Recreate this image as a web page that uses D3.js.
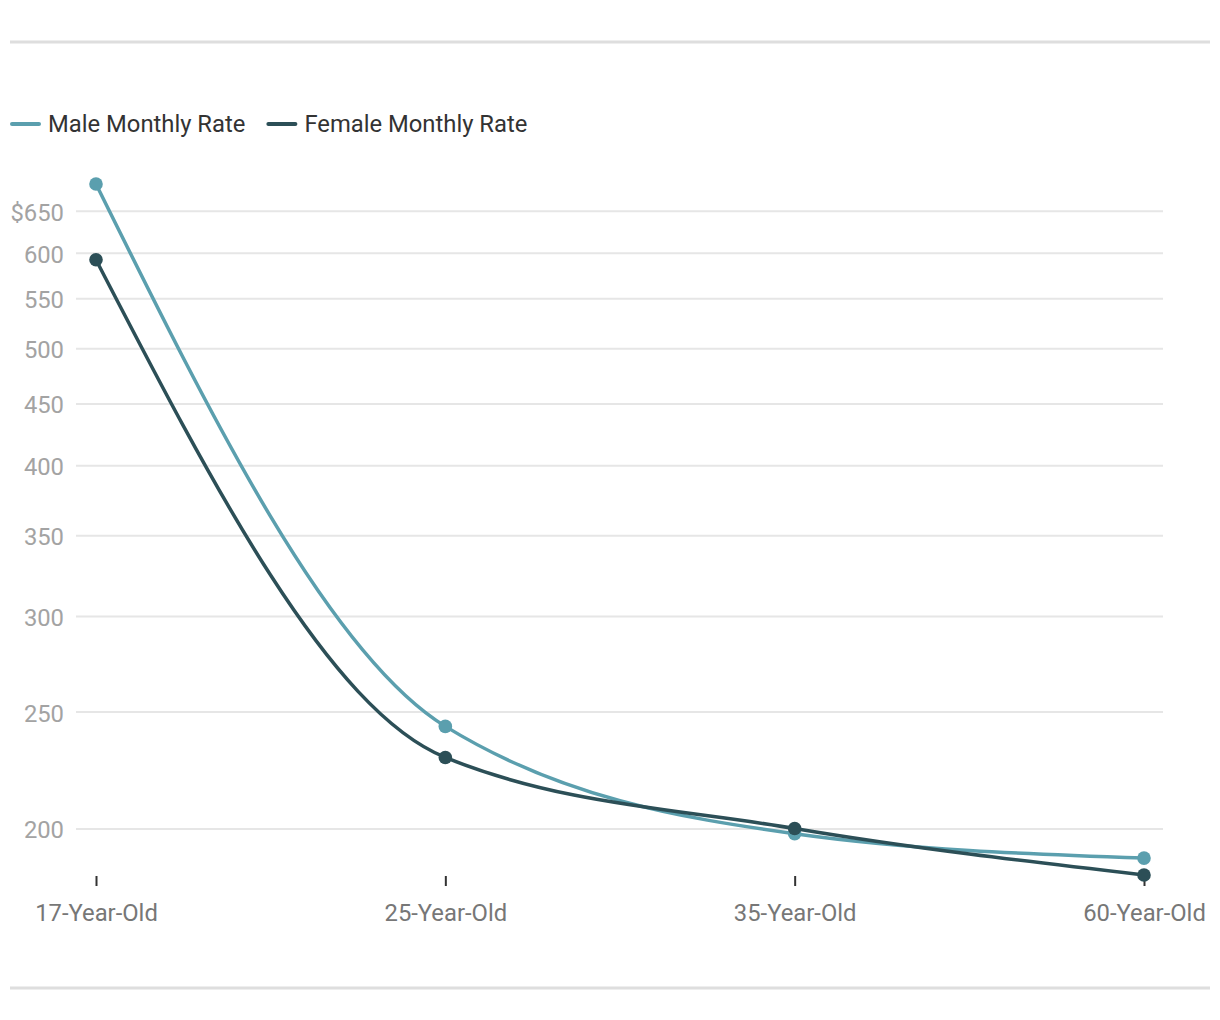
<!DOCTYPE html>
<html><head><meta charset="utf-8">
<script src="https://cdn.jsdelivr.net/npm/d3@7"></script>
<style>body{margin:0;background:#fff;font-family:Roboto,sans-serif;}</style>
</head><body>
<svg id="c" width="1220" height="1020"></svg>
<script>
const categories = ["17-Year-Old","25-Year-Old","35-Year-Old","60-Year-Old"];
const maleValues = [684, 243, 198, 189];
const femaleValues = [592, 229, 200, 183];
const yTicks = [200,250,300,350,400,450,500,550,600,650];
const seriesNames = ["Male Monthly Rate","Female Monthly Rate"];
const colors = ["#5b9fae","#2c4f57"];

const svg = d3.select("#c");
const all = maleValues.concat(femaleValues);
const x = d3.scalePoint().domain(categories).range([96,1144]);
const y = d3.scaleLog().domain([d3.min(all), d3.max(all)]).range([875,184]);

// rules
svg.append("line").attr("x1",10).attr("x2",1210).attr("y1",42).attr("y2",42).attr("stroke","#dedede").attr("stroke-width",3);
svg.append("line").attr("x1",10).attr("x2",1210).attr("y1",988).attr("y2",988).attr("stroke","#dedede").attr("stroke-width",3);

// legend
const lg = svg.append("g");
let lx = 10;
seriesNames.forEach((n,i)=>{
  lg.append("line").attr("x1",lx+2).attr("x2",lx+29).attr("y1",124).attr("y2",124).attr("stroke",colors[i]).attr("stroke-width",4).attr("stroke-linecap","round");
  const t = lg.append("text").attr("x",lx+38).attr("y",132).attr("font-size",23.8).attr("fill","#333").text(n);
  lx += 38 + t.node().getComputedTextLength() + 21;
});

// grid & y labels
const yAxis = d3.axisLeft(y).tickValues(yTicks).tickSize(-(1163-76)).tickPadding(12)
  .tickFormat(d => d===650 ? "$650" : d3.format("d")(d));
const ga = svg.append("g").attr("transform","translate(76,0)").call(yAxis);
ga.select(".domain").remove();
ga.selectAll(".tick line").attr("stroke","#e6e6e6").attr("stroke-width",2);
ga.selectAll(".tick text").attr("font-size",23.8).attr("fill","#a3a3a3").attr("font-family","Roboto").attr("x",-12).attr("dy","0.4em");

// x axis
const xAxis = d3.axisBottom(x).tickSize(10).tickPadding(18);
const gx = svg.append("g").attr("transform","translate(0,876)").call(xAxis);
gx.select(".domain").remove();
gx.selectAll(".tick line").attr("stroke","#333").attr("stroke-width",2);
gx.selectAll(".tick text").attr("font-size",23.8).attr("fill","#777").attr("font-family","Roboto");

// lines
const line = d3.line().x((d,i)=>x(categories[i])).y(d=>y(d)).curve(d3.curveMonotoneX);
[maleValues, femaleValues].forEach((vals,i)=>{
  svg.append("path").attr("d",line(vals)).attr("fill","none").attr("stroke",colors[i]).attr("stroke-width",3.5);
});
[maleValues, femaleValues].forEach((vals,i)=>{
  svg.append("g").selectAll("circle").data(vals).join("circle")
    .attr("cx",(d,j)=>x(categories[j])).attr("cy",d=>y(d)).attr("r",6.8).attr("fill",colors[i]);
});
</script>
</body></html>
